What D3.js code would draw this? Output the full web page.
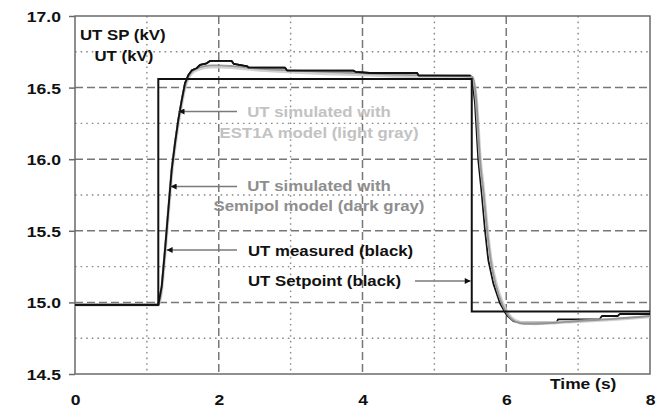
<!DOCTYPE html>
<html>
<head>
<meta charset="utf-8">
<script src="https://cdn.jsdelivr.net/npm/d3@7"></script>
<style>
  html, body { margin: 0; padding: 0; background: #fff; }
  svg { display: block; }
  text { font-family: "Liberation Sans", Arial, sans-serif; font-weight: bold; }
</style>
</head>
<body>
<svg id="chart" width="662" height="406"></svg>
<script>
// Axis ranges and tick positions
const timeDomain = [0, 8];
const voltDomain = [14.5, 17.0];
const timeTicks = [0, 2, 4, 6, 8];
const timeMinorGrid = [1, 3, 5, 7];
const timeMajorGrid = [2, 4, 6];
const voltTicks = [14.5, 15.0, 15.5, 16.0, 16.5, 17.0];
const voltMajorGrid = [15.0, 15.5, 16.0, 16.5];
const voltMinorGrid = [14.75, 15.25, 15.75, 16.25, 16.75];

// Terminal voltage setpoint step (kV)
const setpointTime  = [0, 1.159, 5.52, 8];
const setpointValue = [14.983, 16.56, 14.937, 14.937];

// Measured terminal voltage (kV)
const measuredTime = [0, 1.159, 1.206, 1.252, 1.298, 1.345, 1.391, 1.437, 1.485, 1.530, 1.576, 1.624,
  1.693, 1.74, 1.832, 1.878, 2.18, 2.21, 2.40, 2.41, 2.92, 2.95, 3.87, 3.90, 4.10, 4.76, 4.78, 5.50,
  5.525, 5.565, 5.611, 5.658, 5.704, 5.75, 5.82, 5.913, 6.006, 6.10, 6.20, 6.70, 6.72, 7.30, 7.33,
  7.55, 7.58, 8.0];
const measuredValue = [14.983, 14.983, 15.11, 15.366, 15.645, 15.925, 16.111, 16.274, 16.412, 16.53,
  16.586, 16.62, 16.635, 16.658, 16.67, 16.686, 16.686, 16.665, 16.648, 16.640, 16.640, 16.619, 16.619,
  16.61, 16.602, 16.602, 16.584, 16.584, 16.57, 16.39, 15.994, 15.762, 15.506, 15.296, 15.133, 14.994,
  14.912, 14.87, 14.858, 14.858, 14.882, 14.882, 14.905, 14.905, 14.919, 14.919];

// Simulated terminal voltage, Semipol and EST1A excitation models (kV)
const simTime = [0, 1.159, 1.206, 1.252, 1.298, 1.345, 1.391, 1.437, 1.485, 1.530, 1.576, 1.624, 1.70,
  1.80, 1.90, 2.0, 2.2, 2.5, 3.0, 3.5, 4.0, 4.5, 5.0, 5.53, 5.585, 5.635, 5.685, 5.735, 5.785, 5.855, 5.945,
  6.035, 6.13, 6.25, 6.4, 6.6, 7.0, 7.5, 8.0];
const semipolValue = [14.983, 14.983, 15.10, 15.35, 15.63, 15.91, 16.10, 16.26, 16.40, 16.51, 16.575,
  16.61, 16.635, 16.65, 16.655, 16.655, 16.65, 16.635, 16.62, 16.61, 16.60, 16.59, 16.585, 16.575,
  16.40, 16.00, 15.76, 15.50, 15.29, 15.12, 14.985, 14.905, 14.865, 14.85, 14.85, 14.855, 14.87, 14.885, 14.905];
const est1aValue = [14.983, 14.983, 15.09, 15.34, 15.62, 15.90, 16.09, 16.25, 16.39, 16.50, 16.565,
  16.60, 16.625, 16.64, 16.645, 16.645, 16.64, 16.625, 16.61, 16.598, 16.59, 16.58, 16.575, 16.57,
  16.41, 16.02, 15.78, 15.52, 15.31, 15.14, 15.00, 14.915, 14.872, 14.855, 14.852, 14.856, 14.868, 14.882, 14.9];

const svg = d3.select("#chart");
const plot = { left: 75, right: 650, top: 16, bottom: 374 };

const x = d3.scaleLinear().domain(timeDomain).range([plot.left, plot.right]);
const y = d3.scaleLinear().domain(voltDomain).range([plot.bottom, plot.top]);

const STRETCH = 1.2;

// Grid: dotted minor lines, dashed major lines
const grid = svg.append("g");
grid.selectAll(".vminor").data(timeMinorGrid).join("line")
  .attr("x1", d => x(d)).attr("x2", d => x(d)).attr("y1", plot.top).attr("y2", plot.bottom)
  .attr("stroke", "#8a8a8a").attr("stroke-width", 1.4).attr("stroke-dasharray", "1.6,4");
grid.selectAll(".hminor").data(voltMinorGrid).join("line")
  .attr("x1", plot.left).attr("x2", plot.right).attr("y1", d => y(d)).attr("y2", d => y(d))
  .attr("stroke", "#8a8a8a").attr("stroke-width", 1.4).attr("stroke-dasharray", "1.6,4");
grid.selectAll(".vmajor").data(timeMajorGrid).join("line")
  .attr("x1", d => x(d)).attr("x2", d => x(d)).attr("y1", plot.top).attr("y2", plot.bottom)
  .attr("stroke", "#777").attr("stroke-width", 1.5).attr("stroke-dasharray", "8,4");
grid.selectAll(".hmajor").data(voltMajorGrid).join("line")
  .attr("x1", plot.left).attr("x2", plot.right).attr("y1", d => y(d)).attr("y2", d => y(d))
  .attr("stroke", "#777").attr("stroke-width", 1.5).attr("stroke-dasharray", "8,4");

// Frame
svg.append("rect")
  .attr("x", plot.left).attr("y", plot.top)
  .attr("width", plot.right - plot.left).attr("height", plot.bottom - plot.top)
  .attr("fill", "none").attr("stroke", "#6a6a6a").attr("stroke-width", 1.5);

// Axes
const yAxis = svg.append("g")
  .attr("transform", `translate(${plot.left},0)`)
  .call(d3.axisLeft(y).tickValues(voltTicks).tickFormat(d3.format(".1f")).tickSize(6).tickPadding(0));
yAxis.select(".domain").remove();
yAxis.selectAll(".tick line").attr("stroke", "#6a6a6a").attr("stroke-width", 1.5);
yAxis.selectAll(".tick text")
  .attr("x", null).attr("dy", null)
  .attr("transform", `translate(-14,5.5) scale(1.17,1)`)
  .attr("text-anchor", "end")
  .attr("font-size", 15).attr("fill", "#111");

const xAxis = svg.append("g")
  .attr("transform", `translate(0,${plot.bottom})`)
  .call(d3.axisBottom(x).tickValues(timeTicks).tickFormat(d3.format("d")).tickSize(0));
xAxis.select(".domain").remove();
xAxis.selectAll(".tick text")
  .attr("y", null).attr("dy", null)
  .attr("transform", `translate(0,30.5) scale(1.17,1)`)
  .attr("text-anchor", "middle")
  .attr("font-size", 15).attr("fill", "#111");

// Curves
const simLine = (vals) => d3.line()
  .x((d, i) => x(simTime[i])).y(d => y(d))
  .curve(d3.curveMonotoneX)(vals);

svg.append("path")
  .attr("d", d3.line().x((d, i) => x(measuredTime[i])).y(d => y(d))(measuredValue))
  .attr("fill", "none").attr("stroke", "#111").attr("stroke-width", 1.8).attr("stroke-linejoin", "round");

svg.append("path").attr("d", simLine(est1aValue))
  .attr("fill", "none").attr("stroke", "#c9c9c9").attr("stroke-width", 3.2).attr("stroke-linejoin", "round")
  .attr("stroke-opacity", 0.85);
svg.append("path").attr("d", simLine(semipolValue))
  .attr("fill", "none").attr("stroke", "#8c8c8c").attr("stroke-width", 1.8).attr("stroke-linejoin", "round")
  .attr("stroke-opacity", 0.85);

// Measured trace is redrawn over the rise and plateau, where it stays in front
svg.append("path")
  .attr("d", d3.line().x((d, i) => x(measuredTime[i])).y(d => y(d))
    .defined((d, i) => measuredTime[i] <= 5.50)(measuredValue))
  .attr("fill", "none").attr("stroke", "#111").attr("stroke-width", 1.8).attr("stroke-linejoin", "round");

svg.append("path")
  .attr("d", d3.line().x((d, i) => x(setpointTime[i])).y(d => y(d)).curve(d3.curveStepAfter)(setpointValue))
  .attr("fill", "none").attr("stroke", "#111").attr("stroke-width", 2);

// Arrow markers
svg.append("defs").append("marker")
  .attr("id", "head").attr("viewBox", "0 0 10 10")
  .attr("refX", 10).attr("refY", 5)
  .attr("markerWidth", 7).attr("markerHeight", 6).attr("markerUnits", "userSpaceOnUse")
  .attr("orient", "auto")
  .append("path").attr("d", "M0,0 L10,5 L0,10 Z").attr("fill", "#111");

// Text helper (labels are drawn slightly wide)
function label(px, py, str, color, size, anchor) {
  svg.append("text")
    .attr("transform", `translate(${px},${py}) scale(${STRETCH},1)`)
    .attr("text-anchor", anchor || "start")
    .attr("font-size", size || 14)
    .attr("fill", color)
    .text(str);
}

// Axis titles
label(80, 39.5, "UT SP (kV)", "#111");
label(94.5, 60.5, "UT (kV)", "#111");
label(550, 389, "Time (s)", "#111", 14.5);

// Annotations
function arrow(x1, y1, x2, y2) {
  svg.append("line")
    .attr("x1", x1).attr("y1", y1).attr("x2", x2).attr("y2", y2)
    .attr("stroke", "#7a7a7a").attr("stroke-width", 1.3)
    .attr("marker-end", "url(#head)");
}

arrow(237, 111.5, x(1.44), 111.5);
label(319, 116.5, "UT simulated with", "#c2c2c2", 14, "middle");
label(319, 137.5, "EST1A model (light gray)", "#c2c2c2", 14, "middle");

arrow(237, 186.5, x(1.33), 186.5);
label(319, 191, "UT simulated with", "#8e8e8e", 14, "middle");
label(319, 211, "Semipol model (dark gray)", "#8e8e8e", 14, "middle");

arrow(237, 250, x(1.275), 250);
label(248, 255.5, "UT measured (black)", "#111");

label(248, 286, "UT Setpoint (black)", "#111");
arrow(415, 281, x(5.52) - 1, 281);
</script>
</body>
</html>
